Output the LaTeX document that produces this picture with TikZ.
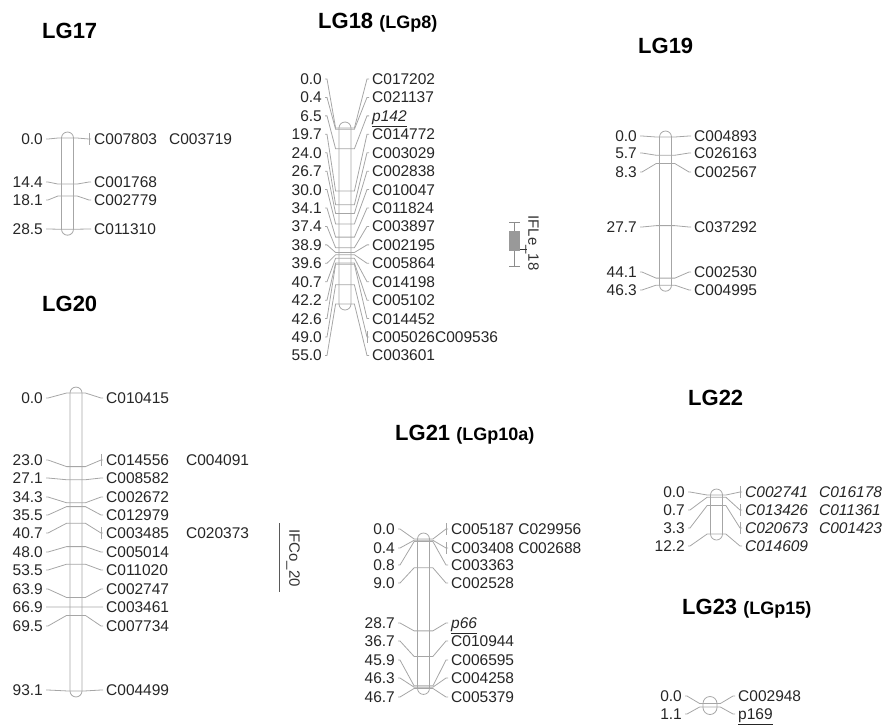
\documentclass[tikz,border=0pt]{standalone}
\usepackage{fontspec}
\setmainfont{Liberation Sans}
\usepackage{tikz}
\usetikzlibrary{positioning}

\begin{document}
\begin{tikzpicture}[
    x=1pt, y=-1pt,
    chrom/.style={
        rectangle,
        rounded corners=6pt,
        minimum width=12pt,
        inner sep=0pt,
        draw=black!35,
        line width=0.8pt
    },
    link/.style={
        draw=black!35,
        line width=0.8pt
    },
    cmlabel/.style={
        anchor=east,
        inner sep=3pt,
        text height=11pt,
        text depth=0pt,
        text=black!85,
        font=\fontsize{15.5}{18}\selectfont
    },
    mklabel/.style={
        cmlabel,
        anchor=west
    },
    lgtitle/.style={
        anchor=base west,
        inner sep=0pt,
        font=\fontsize{22}{26}\selectfont\bfseries
    },
    qtlbar/.style={
        draw=black!45,
        line width=0.8pt
    },
    qtllabel/.style={
        rotate=-90,
        inner sep=0pt,
        text=black!80,
        font=\fontsize{15}{18}\selectfont
    }
]
\useasboundingbox (0,0) rectangle (886,724);
% LG17
\node (t17) [lgtitle] at (42,38) {LG17};
\node (c17) [chrom, minimum height=103.2pt] at (67.5,183.6) {};
\foreach \cm/\ly/\nm [count=\i, evaluate=\cm as \ym using 138+3.2*\cm] in
    {0.0/139/{C007803\hspace{12pt}C003719}, 14.4/182/C001768, 18.1/200/C002779, 28.5/229/C011310}{
    \node (p17-\i) [cmlabel] at (46,\ly) {\cm};
    \node (m17-\i) [mklabel] at (91,\ly) {\nm};
    \draw [link] (p17-\i.east) -- ++(2,0) -- ([xshift=-3pt]c17.west |- 0,\ym) -- ([xshift=3pt]c17.east |- 0,\ym) -- ([xshift=-2pt]m17-\i.west) -- (m17-\i.west);
}
\draw [link] ([xshift=-2pt, yshift=6pt]m17-1.west) -- ([xshift=-2pt, yshift=-6pt]m17-1.west);
% LG18
\node (t18) [lgtitle] at (318,28) {LG18 {\fontsize{18}{21}\selectfont(LGp8)}};
\node (c18) [chrom, minimum height=188pt] at (345,216) {};
\foreach \cm/\nm [count=\i, evaluate=\cm as \ym using 128+3.2*\cm] in
    {0.0/C017202, 0.4/C021137, 6.5/{\underline{\textit{p142}}}, 19.7/C014772, 24.0/C003029,
     26.7/C002838, 30.0/C010047, 34.1/C011824, 37.4/C003897, 38.9/C002195, 39.6/C005864,
     40.7/C014198, 42.2/C005102, 42.6/C014452, 49.0/C005026C009536, 55.0/C003601}{
    \pgfmathsetmacro{\ly}{79+18.43*(\i-1)}
    \node (p18-\i) [cmlabel] at (325,\ly) {\cm};
    \node (m18-\i) [mklabel] at (369,\ly) {\nm};
    \draw [link] (p18-\i.east) -- ++(2,0) -- ([xshift=-3pt]c18.west |- 0,\ym) -- ([xshift=3pt]c18.east |- 0,\ym) -- ([xshift=-2pt]m18-\i.west) -- (m18-\i.west);
}
\draw [link] ([xshift=-2pt, yshift=6pt]m18-15.west) -- ([xshift=-2pt, yshift=-6pt]m18-15.west);
% QTL IFLe_18
\node (q18) [rectangle, fill=black!40, minimum width=11pt, minimum height=20pt, inner sep=0pt] at (514.5,241) {};
\coordinate (q18t) at (514.5,222);
\coordinate (q18b) at (514.5,266);
\draw [qtlbar] ([xshift=-5.5pt]q18t) -- ([xshift=5.5pt]q18t) (q18t) -- (q18.north) (q18.south) -- (q18b) ([xshift=-5.5pt]q18b) -- ([xshift=5.5pt]q18b);
\draw [black!80, line width=1pt] ([yshift=2pt]q18.south east) -- ++(7,0);
\node (l18) [qtllabel] at (532,243) {IFLe\_18};
% LG19
\node (t19) [lgtitle] at (638,53) {LG19};
\node (c19) [chrom, minimum height=160.2pt] at (665.5,211.1) {};
\foreach \cm/\ly/\nm [count=\i, evaluate=\cm as \ym using 137+3.2*\cm] in
    {0.0/136/C004893, 5.7/153/C026163, 8.3/172/C002567, 27.7/227/C037292, 44.1/272/C002530, 46.3/290/C004995}{
    \node (p19-\i) [cmlabel] at (640,\ly) {\cm};
    \node (m19-\i) [mklabel] at (691,\ly) {\nm};
    \draw [link] (p19-\i.east) -- ++(2,0) -- ([xshift=-3pt]c19.west |- 0,\ym) -- ([xshift=3pt]c19.east |- 0,\ym) -- ([xshift=-2pt]m19-\i.west) -- (m19-\i.west);
}
% LG20
\node (t20) [lgtitle] at (42,311) {LG20};
\node (c20) [chrom, minimum height=309.9pt] at (76,542) {};
\foreach \cm/\ly/\nm [count=\i, evaluate=\cm as \ym using 393+3.2*\cm] in
    {0.0/398/C010415, 23.0/460/{C014556\hspace{17pt}C004091}, 27.1/478/C008582, 34.3/497/C002672,
     35.5/515/C012979, 40.7/533/{C003485\hspace{17pt}C020373}, 48.0/552/C005014, 53.5/570/C011020,
     63.9/589/C002747, 66.9/607/C003461, 69.5/626/C007734, 93.1/690/C004499}{
    \node (p20-\i) [cmlabel] at (46,\ly) {\cm};
    \node (m20-\i) [mklabel] at (103,\ly) {\nm};
    \draw [link] (p20-\i.east) -- ++(2,0) -- ([xshift=-3pt]c20.west |- 0,\ym) -- ([xshift=3pt]c20.east |- 0,\ym) -- ([xshift=-2pt]m20-\i.west) -- (m20-\i.west);
}
\draw [link] ([xshift=-2pt, yshift=6pt]m20-2.west) -- ([xshift=-2pt, yshift=-6pt]m20-2.west);
\draw [link] ([xshift=-2pt, yshift=6pt]m20-6.west) -- ([xshift=-2pt, yshift=-6pt]m20-6.west);
% QTL IFCo_20
\coordinate (q20t) at (279,523);
\coordinate (q20b) at (279,592);
\draw [black!65, line width=1pt] (q20t) -- (q20b);
\node (l20) [qtllabel] at (293,558) {IFCo\_20};
% LG21
\node (t21) [lgtitle] at (395,440) {LG21 {\fontsize{18}{21}\selectfont(LGp10a)}};
\node (c21) [chrom, minimum height=161.4pt] at (423.5,613.7) {};
\foreach \cm/\ly/\nm [count=\i, evaluate=\cm as \ym using 539+3.2*\cm] in
    {0.0/529/{C005187 C029956}, 0.4/548/{C003408 C002688}, 0.8/565/C003363, 9.0/583/C002528,
     28.7/623/{\underline{\textit{p66}}}, 36.7/641/C010944, 45.9/660/C006595, 46.3/678/C004258, 46.7/697/C005379}{
    \node (p21-\i) [cmlabel] at (398,\ly) {\cm};
    \node (m21-\i) [mklabel] at (448,\ly) {\nm};
    \draw [link] (p21-\i.east) -- ++(2,0) -- ([xshift=-3pt]c21.west |- 0,\ym) -- ([xshift=3pt]c21.east |- 0,\ym) -- ([xshift=-2pt]m21-\i.west) -- (m21-\i.west);
}
\draw [link] ([xshift=-2pt, yshift=6pt]m21-1.west) -- ([xshift=-2pt, yshift=-6pt]m21-1.west);
\draw [link] ([xshift=-2pt, yshift=6pt]m21-2.west) -- ([xshift=-2pt, yshift=-6pt]m21-2.west);
% LG22
\node (t22) [lgtitle] at (688,405) {LG22};
\node (c22) [chrom, minimum height=51pt] at (716.5,514.5) {};
\foreach \cm/\ly/\nm [count=\i, evaluate=\cm as \ym using 495+3.2*\cm] in
    {0.0/492/{C002741\hspace{11pt}C016178}, 0.7/510/{C013426\hspace{11pt}C011361},
     3.3/528/{C020673\hspace{11pt}C001423}, 12.2/546/C014609}{
    \node (p22-\i) [cmlabel] at (688,\ly) {\cm};
    \node (m22-\i) [mklabel] at (742,\ly) {\textit{\nm}};
    \draw [link] (p22-\i.east) -- ++(2,0) -- ([xshift=-3pt]c22.west |- 0,\ym) -- ([xshift=3pt]c22.east |- 0,\ym) -- ([xshift=-2pt]m22-\i.west) -- (m22-\i.west);
}
\foreach \i in {1,2,3}
    \draw [link] ([xshift=-2pt, yshift=6pt]m22-\i.west) -- ([xshift=-2pt, yshift=-6pt]m22-\i.west);
% LG23
\node (t23) [lgtitle] at (682,614) {LG23 {\fontsize{18}{21}\selectfont(LGp15)}};
\node (c23) [chrom, minimum width=14pt, minimum height=18pt, rounded corners=7pt] at (710,705.5) {};
\foreach \cm/\ly/\nm [count=\i, evaluate=\cm as \ym using 703.5+3.2*\cm] in
    {0.0/696/C002948, 1.1/714/{\underline{p169}}}{
    \node (p23-\i) [cmlabel] at (685,\ly) {\cm};
    \node (m23-\i) [mklabel] at (735,\ly) {\nm};
    \draw [link] (p23-\i.east) -- ++(2,0) -- ([xshift=-3pt]c23.west |- 0,\ym) -- ([xshift=3pt]c23.east |- 0,\ym) -- ([xshift=-2pt]m23-\i.west) -- (m23-\i.west);
}
\end{tikzpicture}
\end{document}
